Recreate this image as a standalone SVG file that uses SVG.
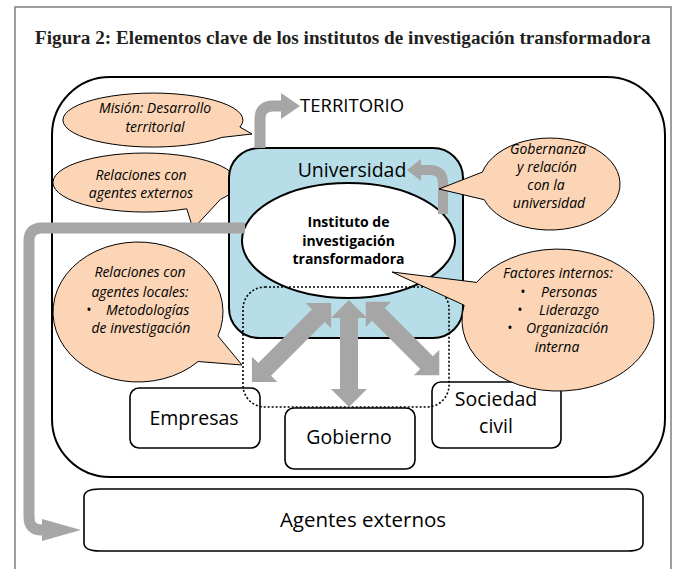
<svg xmlns="http://www.w3.org/2000/svg" width="674" height="569" viewBox="0 0 674 569">
<defs>
<style>
.t{font-family:"Open Sans","Liberation Sans",sans-serif;fill:#000}
.it{font-style:italic;font-size:14px}
.big{font-size:19.5px}
.mid{text-anchor:middle}
.call{fill:#fbd5b5;stroke:#000;stroke-width:1}
.box{fill:#fff;stroke:#000;stroke-width:1.6}
.bar{fill:none;stroke:#a6a6a6}
.head{fill:#a6a6a6}
</style>
</defs>
<rect x="15" y="7" width="656" height="580" fill="#fff" stroke="#7f7f7f" stroke-width="1.5"/>
<text x="35" y="44" font-family="Liberation Serif,serif" font-weight="bold" font-size="19.2" fill="#231f20">Figura 2: Elementos clave de los institutos de investigación transformadora</text>

<g id="territorio">
<rect x="52" y="77" width="613" height="400" rx="58" fill="#fff" stroke="#000" stroke-width="2"/>
<text class="t" x="300" y="112" font-size="18.5">TERRITORIO</text>
</g>

<g id="callout-mision">
<path class="call" d="M 239.9 127 A 90 27 0 1 0 221.9 137.4 L 252 134 Z"/>
<text class="t it mid" x="155" y="113">Misión: Desarrollo</text>
<text class="t it mid" x="155" y="132">territorial</text>
</g>
<g id="callout-externos">
<path class="call" d="M 220.4 199.4 A 92 29.5 0 1 0 186.8 208.8 L 193 229 Z"/>
<text class="t it mid" x="141" y="180">Relaciones con</text>
<text class="t it mid" x="141" y="198">agentes externos</text>
</g>
<g id="callout-locales">
<path class="call" d="M 217.9 335.9 A 85 70 0 1 0 198.1 361.5 L 242 365 Z"/>
<text class="t it mid" x="140" y="277">Relaciones con</text>
<text class="t it mid" x="140" y="297">agentes locales:</text>
<text class="t it" x="86" y="315">•</text>
<text class="t it" x="106" y="315">Metodologías</text>
<text class="t it mid" x="141" y="333">de investigación</text>
</g>

<g id="universidad">
<rect x="229" y="148" width="234" height="190" rx="30" fill="#b7dde8" stroke="#000" stroke-width="2"/>
<text class="t big mid" x="352" y="177">Universidad</text>
</g>

<g id="instituto">
<ellipse cx="348.5" cy="240.5" rx="106.5" ry="57.5" fill="#fff" stroke="#000" stroke-width="2"/>
<text class="t mid" x="348.5" y="227" font-size="14" font-weight="bold">Instituto de</text>
<text class="t mid" x="348.5" y="246" font-size="14" font-weight="bold">investigación</text>
<text class="t mid" x="348.5" y="264" font-size="14" font-weight="bold">transformadora</text>
</g>

<g id="empresas">
<rect class="box" x="130" y="388" width="130" height="60" rx="9"/>
<text class="t big mid" x="194" y="425">Empresas</text>
</g>
<g id="gobierno">
<rect class="box" x="285" y="408" width="130" height="61" rx="9"/>
<text class="t big mid" x="349" y="444">Gobierno</text>
</g>
<g id="sociedad">
<rect class="box" x="432" y="382" width="129" height="66" rx="9"/>
<text class="t big mid" x="496" y="406">Sociedad</text>
<text class="t big mid" x="496" y="433">civil</text>
</g>

<g id="agentes-locales-grupo">
<rect x="243" y="287" width="206" height="120" rx="22" fill="none" stroke="#000" stroke-width="1.6" stroke-dasharray="2 2"/>
</g>

<g id="connectors">
<path class="bar" stroke-width="11" d="M 245 228 H 42 Q 29 228 29 241 V 517 Q 29 530 42 530 H 44"/>
<polygon class="head" points="42,519 81,530 42,541"/>
<path class="bar" stroke-width="11" d="M 260 148 V 119 Q 260 106 273 106 H 283"/>
<polygon class="head" points="281,93 300,106 281,119"/>
<path class="bar" stroke-width="10" d="M 443 214 V 183 Q 443 170 430 170 H 419"/>
<polygon class="head" points="421,159 407,170 421,181"/>
<polygon class="head" transform="translate(291.5,342.5) rotate(-45)" points="-56,0 -38,-18 -38,-9 38,-9 38,-18 56,0 38,18 38,9 -38,9 -38,18"/>
<polygon class="head" transform="translate(402.5,338.5) rotate(45)" points="-52,0 -34,-18 -34,-9 34,-9 34,-18 52,0 34,18 34,9 -34,9 -34,18"/>
<polygon class="head" transform="translate(349,353.5) rotate(90)" points="-53.5,0 -35.5,-18 -35.5,-9 35.5,-9 35.5,-18 53.5,0 35.5,18 35.5,9 -35.5,9 -35.5,18"/>
</g>

<g id="callout-gobernanza">
<path class="call" d="M 484.2 199.7 A 70 46 0 1 0 482.4 172.1 L 439 189 Z"/>
<text class="t it mid" x="548" y="153.5" font-size="13.5">Gobernanza</text>
<text class="t it mid" x="547" y="171.8" font-size="13.5">y relación</text>
<text class="t it mid" x="546" y="190.1" font-size="13.5">con la</text>
<text class="t it mid" x="549" y="208.4" font-size="13.5">universidad</text>
</g>
<g id="callout-factores">
<path class="call" d="M 464.1 305.2 A 96 71 0 1 0 476.6 282.4 L 392 272 Z"/>
<text class="t it mid" x="558" y="278">Factores internos:</text>
<text class="t it" x="520" y="297">•</text>
<text class="t it" x="541" y="297">Personas</text>
<text class="t it" x="517" y="315">•</text>
<text class="t it" x="539" y="315">Liderazgo</text>
<text class="t it" x="507" y="333">•</text>
<text class="t it" x="526" y="333">Organización</text>
<text class="t it mid" x="557" y="352">interna</text>
</g>

<g id="agentes-externos">
<path class="box" d="M 84 497 Q 84 489 100 489 H 628 Q 643 489 643 497 V 543 Q 643 551 628 551 H 100 Q 84 551 84 543 Z"/>
<text class="t mid" x="363" y="527" font-size="20.5">Agentes externos</text>
</g>
</svg>
